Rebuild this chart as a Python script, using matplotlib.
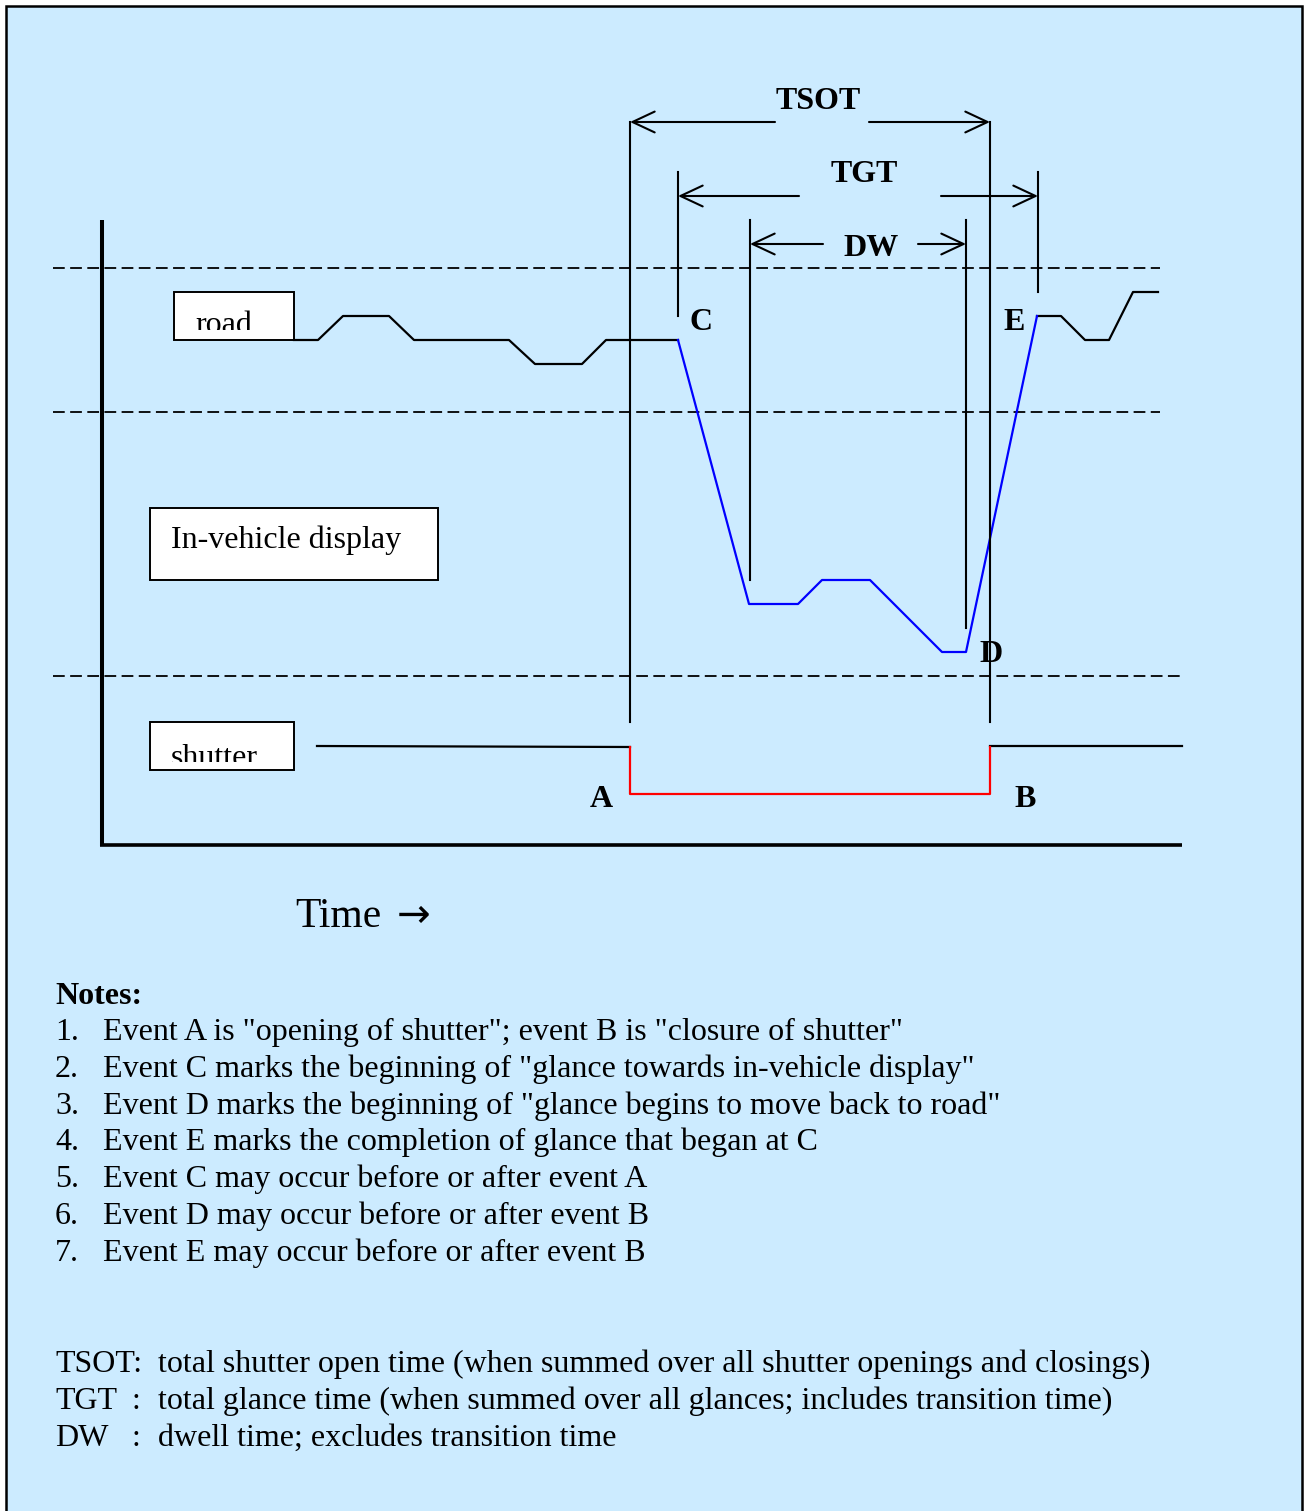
import matplotlib
matplotlib.use("Agg")
import matplotlib.pyplot as plt
from matplotlib.patches import Rectangle
from matplotlib.transforms import Bbox, TransformedBbox

# diagram is laid out in pixel units of the original picture (y grows downward)
W, H = 1307, 1511
BG = '#CCEBFF'
SERIF = ['Liberation Serif', 'DejaVu Serif']

# gaze trace while looking at the road (before C)
road_x = [294, 318, 343, 389, 414, 509, 535, 582, 606, 678]
road_y = [340, 340, 316, 316, 340, 340, 364, 364, 340, 340]
# glance towards the in-vehicle display (C -> D -> E)
glance_x = [678, 749, 798, 822, 870, 942, 966, 1037]
glance_y = [340, 604, 604, 580, 580, 652, 652, 316]
# back on the road after E
after_x = [1037, 1061, 1085, 1109, 1133, 1158]
after_y = [316, 316, 340, 340, 292, 292]

# shutter state
shut_closed_1 = ([317, 630], [746, 747])
shut_open_x = [630, 630, 990, 990]
shut_open_y = [747, 794, 794, 747]
shut_closed_2 = ([990, 1182], [746, 746])

# zone borders (dashed)
zone_y = [268, 412, 676]
zone_x_end = [1160, 1160, 1180]

# event marker lines: x, top, bottom
markers = [(630, 122, 722), (990, 122, 722), (678, 172, 316),
           (1038, 172, 292), (750, 220, 580), (966, 220, 628)]

# dimension arrows: label, y, left, right, gap start, gap end, label x, label baseline
dims = [('TSOT', 122, 630, 990, 775, 869, 818, 109),
        ('TGT', 196, 678, 1038, 799, 941, 864, 182),
        ('DW', 244, 750, 966, 823, 918, 871, 256)]

events = [('C', 701, 330), ('E', 1014, 330), ('D', 991, 662),
          ('A', 601, 807), ('B', 1025, 807)]

notes = ['Event A is "opening of shutter"; event B is "closure of shutter"',
         'Event C marks the beginning of "glance towards in-vehicle display"',
         'Event D marks the beginning of "glance begins to move back to road"',
         'Event E marks the completion of glance that began at C',
         'Event C may occur before or after event A',
         'Event D may occur before or after event B',
         'Event E may occur before or after event B']

abbrev = [('TSOT:', None, 'total shutter open time (when summed over all shutter openings and closings)'),
          ('TGT', ':', 'total glance time (when summed over all glances; includes transition time)'),
          ('DW', ':', 'dwell time; excludes transition time')]

fig = plt.figure(figsize=(W / 100, H / 100), dpi=100)
ax = fig.add_axes([0, 0, 1, 1])
ax.set_xlim(0, W)
ax.set_ylim(H, 0)
ax.axis('off')

# panel background and frame
ax.add_patch(Rectangle((6, 6), 1296, H + 20, facecolor=BG, edgecolor='black', lw=1.8))

# axes of the diagram
ax.plot([102, 102], [220, 846], color='black', lw=2.9, solid_capstyle='butt')
ax.plot([100, 1182], [845, 845], color='black', lw=2.6, solid_capstyle='butt')

for y, xe in zip(zone_y, zone_x_end):
    ax.plot([53, xe], [y, y], color='black', lw=1.3, dashes=(6.5, 3))

# traces
ax.plot(road_x, road_y, color='black', lw=1.6)
ax.plot(after_x, after_y, color='black', lw=1.6)
ax.plot(glance_x, glance_y, color='#0000FF', lw=1.6)
ax.plot(*shut_closed_1, color='black', lw=1.6)
ax.plot(*shut_closed_2, color='black', lw=1.6)
ax.plot(shut_open_x, shut_open_y, color='#FF0000', lw=1.6)

for x, y0, y1 in markers:
    ax.plot([x, x], [y0, y1], color='black', lw=1.5)

arrow = dict(arrowstyle='->,head_length=1.6,head_width=0.75', color='black',
             lw=1.5, shrinkA=0, shrinkB=0, mutation_scale=10)
for label, y, xl, xr, g0, g1, lx, ly in dims:
    ax.annotate('', xy=(xl, y), xytext=(g0, y), arrowprops=arrow)
    ax.annotate('', xy=(xr, y), xytext=(g1, y), arrowprops=arrow)
    ax.text(lx, ly, label, fontsize=23, fontweight='bold', family=SERIF,
            ha='center', va='baseline')

for label, x, y in events:
    ax.text(x, y, label, fontsize=23, fontweight='bold', family=SERIF,
            ha='center', va='baseline')

# state boxes, text cropped by the box like in the original
def state_box(x, y, w, h, label, tx, ty, clip_y):
    ax.add_patch(Rectangle((x, y), w, h, facecolor='white', edgecolor='black', lw=1.4, zorder=3))
    t = ax.text(tx, ty, label, fontsize=23, family=SERIF, va='baseline', zorder=4)
    if clip_y is not None:
        box = TransformedBbox(Bbox.from_extents(x, y, x + w, clip_y), ax.transData)
        t.set_clip_box(box)
        t.set_clip_on(True)

state_box(174, 292, 120, 48, 'road', 195, 333, 330)
state_box(150, 508, 288, 72, 'In-vehicle display', 171, 548, None)
state_box(150, 722, 144, 48, 'shutter', 171, 766, 762)

ax.text(295, 927, 'Time', fontsize=30, family=SERIF, va='baseline')
ax.text(397, 927, '\u2192', fontsize=29, family='DejaVu Sans', va='baseline')

ax.text(55, 1004, 'Notes:', fontsize=23, fontweight='bold', family=SERIF, va='baseline')
for i, line in enumerate(notes):
    yb = 1040 + i * 36.8
    ax.text(55, yb, f'{i + 1}.', fontsize=23, family=SERIF, va='baseline')
    ax.text(103, yb, line, fontsize=23, family=SERIF, va='baseline')

for i, (name, colon, desc) in enumerate(abbrev):
    yb = 1372 + i * 36.8
    ax.text(55, yb, name, fontsize=23, family=SERIF, va='baseline')
    if colon:
        ax.text(136, yb, colon, fontsize=23, family=SERIF, ha='center', va='baseline')
    ax.text(158, yb, desc, fontsize=23, family=SERIF, va='baseline')

fig.savefig('out.png', dpi=100, facecolor='white')
